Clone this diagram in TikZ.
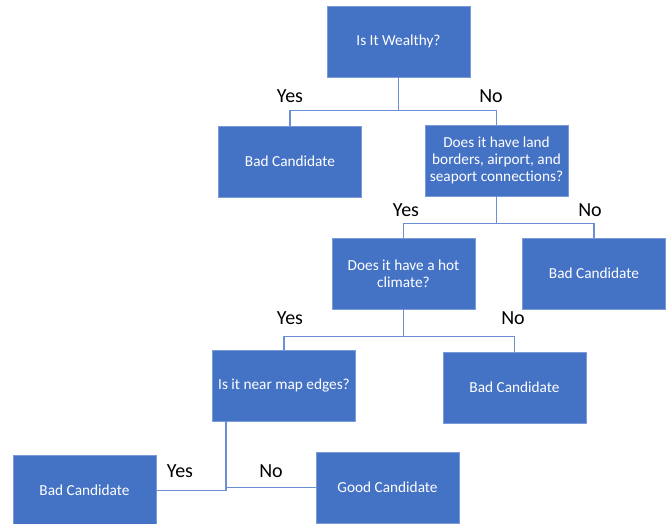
\documentclass[tikz,border=0pt]{standalone}
\usepackage{fontspec}
\setmainfont{Carlito}[Ligatures=NoCommon]
\usepackage{xcolor}
\usepackage{tikz}
\definecolor{boxColor}{HTML}{4472C4}
\definecolor{edgeColor}{HTML}{7A9BD8}
\definecolor{linkColor}{HTML}{6A8FD2}

\begin{document}
\begin{tikzpicture}[x=1pt, y=1pt,
    decision/.style={rectangle, fill=boxColor, draw=edgeColor, line width=0.8pt,
        minimum width=143pt, minimum height=71pt, inner sep=0pt,
        text=white, align=center, font=\fontsize{15.3}{17}\selectfont},
    link/.style={linkColor, line width=1.3pt},
    answer/.style={font=\fontsize{20}{22}\selectfont}]
    \useasboundingbox (0,0) rectangle (671,523);
    \node[decision] (wealthy) at (398.5,481.5) {Is It Wealthy?};
    \node[decision] (bad1) at (290,361.5) {Bad Candidate};
    \node[decision] (land) at (496.5,362.5) {Does it have land\\borders, airport, and\\seaport connections?};
    \node[decision] (climate) at (403.5,249.5) {Does it have a hot\\climate?};
    \node[decision] (bad2) at (594,249.5) {Bad Candidate};
    \node[decision] (edges) at (284,137.5) {Is it near map edges?};
    \node[decision] (bad3) at (514.5,135.5) {Bad Candidate};
    \node[decision] (bad4) at (84.5,32.5) {Bad Candidate};
    \node[decision] (good) at (387.5,35.5) {Good Candidate};
    \draw[link] (wealthy.south) -- ++(0,-33) -| (bad1.north);
    \draw[link] (wealthy.south) -- ++(0,-33) -| (land.north);
    \draw[link] (land.south) -- ++(0,-27) -| (climate.north);
    \draw[link] (land.south) -- ++(0,-27) -| (bad2.north);
    \draw[link] (climate.south) -- ++(0,-27) -| (edges.north);
    \draw[link] (climate.south) -- ++(0,-27) -| (bad3.north);
    \coordinate (split) at (226,137.5);
    \draw[link] (split |- edges.south) |- (bad4.east);
    \draw[link] (split |- edges.south) |- (good.west);
    \node[answer] (yes1) at (290,427) {Yes};
    \node[answer] (no1) at (491,427) {No};
    \node[answer] (yes2) at (406,313) {Yes};
    \node[answer] (no2) at (590,313) {No};
    \node[answer] (yes3) at (290,205) {Yes};
    \node[answer] (no3) at (513,205) {No};
    \node[answer] (yes4) at (180,52) {Yes};
    \node[answer] (no4) at (271,52) {No};
\end{tikzpicture}
\end{document}
